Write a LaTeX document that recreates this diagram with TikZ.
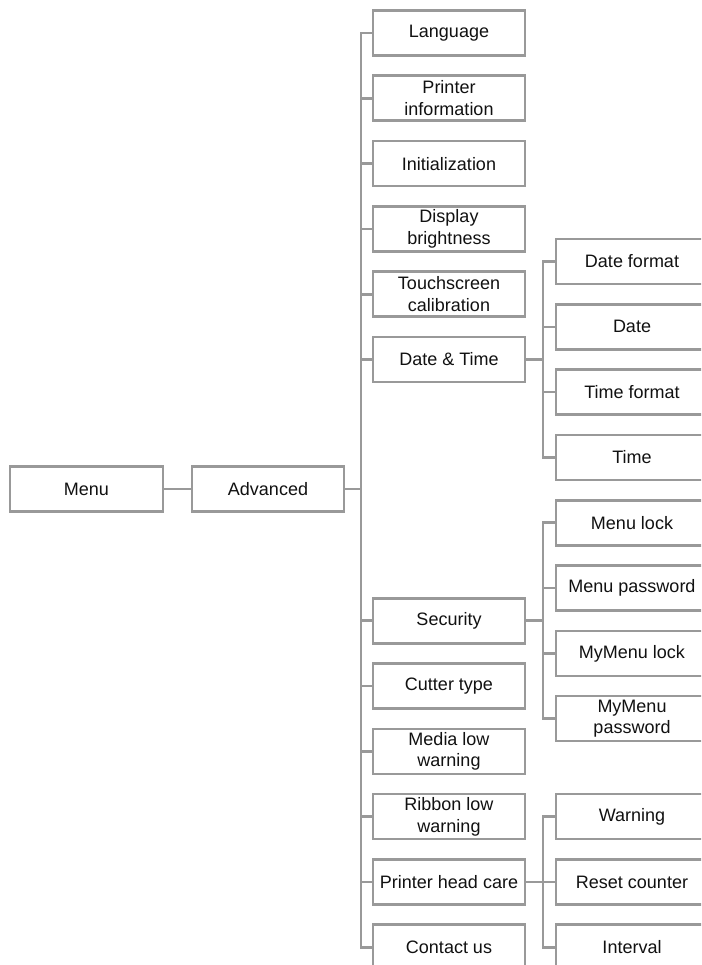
\documentclass[tikz,border=0pt]{standalone}
\usepackage{fontspec}
\setmainfont{Liberation Sans}
\definecolor{linegray}{HTML}{999999}
\definecolor{txt}{HTML}{111111}
\begin{document}
\begin{tikzpicture}[x=1pt,y=-1pt,
  box/.style={draw=linegray,line width=2.6pt,fill=white,minimum width=152pt,minimum height=45pt,
    inner sep=0pt,align=center,text=txt,font=\fontsize{18}{21.5}\selectfont},
  conn/.style={draw=linegray,line width=2.6pt}]
\useasboundingbox (0,0) rectangle (701,965);
\clip (0,0) rectangle (701,965);
\fill[white] (0,0) rectangle (701,965);
\def\rowy#1{33+65.3*#1}
% level 0/1
\node[box,minimum width=153pt] (menu) at (86.5,489) {Menu};
\node[box] (adv) at (268,489) {Advanced};
% level 2
\node[box] (lang) at (449,{\rowy{0}}) {Language};
\node[box] (pinfo) at (449,{\rowy{1}}) {Printer\\information};
\node[box] (init) at (449,{\rowy{2}}) {Initialization};
\node[box] (disp) at (449,{\rowy{3}}) {Display\\brightness};
\node[box] (touch) at (449,{\rowy{4}}) {Touchscreen\\calibration};
\node[box] (dt) at (449,{\rowy{5}}) {Date \& Time};
\node[box] (sec) at (449,{\rowy{9}}) {Security};
\node[box] (cut) at (449,{\rowy{10}}) {Cutter type};
\node[box] (media) at (449,{\rowy{11}}) {Media low\\warning};
\node[box] (ribbon) at (449,{\rowy{12}}) {Ribbon low\\warning};
\node[box] (phc) at (449,{\rowy{13}}) {Printer head care};
\node[box] (contact) at (449,{\rowy{14}}) {Contact us};
% level 3
\node[box] (dfmt) at (632,{\rowy{3.5}}) {Date format};
\node[box] (date) at (632,{\rowy{4.5}}) {Date};
\node[box] (tfmt) at (632,{\rowy{5.5}}) {Time format};
\node[box] (time) at (632,{\rowy{6.5}}) {Time};
\node[box] (mlock) at (632,{\rowy{7.5}}) {Menu lock};
\node[box] (mpass) at (632,{\rowy{8.5}}) {Menu password};
\node[box] (mymlock) at (632,{\rowy{9.5}}) {MyMenu lock};
\node[box] (mympass) at (632,{\rowy{10.5}}) {MyMenu\\password};
\node[box] (warn) at (632,{\rowy{12}}) {Warning};
\node[box] (reset) at (632,{\rowy{13}}) {Reset counter};
\node[box] (intv) at (632,{\rowy{14}}) {Interval};
% connectors
\draw[conn] (menu.east) -- (adv.west);
\draw[conn] (adv.east) -- ++(15.5,0) coordinate (t1);
\foreach \n in {lang,pinfo,init,disp,touch,dt,sec,cut,media,ribbon,phc,contact}
  \draw[conn] (t1) |- (\n.west);
\draw[conn] (dt.east) -- ++(16.5,0) coordinate (t2);
\foreach \n in {dfmt,date,tfmt,time}
  \draw[conn] (t2) |- (\n.west);
\draw[conn] (sec.east) -- ++(16.5,0) coordinate (t3);
\foreach \n in {mlock,mpass,mymlock,mympass}
  \draw[conn] (t3) |- (\n.west);
\draw[conn] (phc.east) -- ++(16.5,0) coordinate (t4);
\foreach \n in {warn,reset,intv}
  \draw[conn] (t4) |- (\n.west);
\end{tikzpicture}
\end{document}
